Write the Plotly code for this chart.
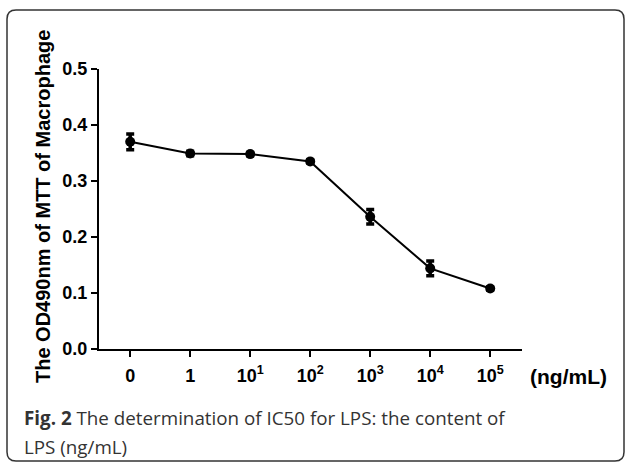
import plotly.graph_objects as go

categories = ["0", "1", "10<sup>1</sup>", "10<sup>2</sup>", "10<sup>3</sup>", "10<sup>4</sup>", "10<sup>5</sup>"]
od_values = [0.370, 0.349, 0.348, 0.335, 0.236, 0.144, 0.108]
od_errors = [0.014, 0.004, 0.003, 0.003, 0.013, 0.013, 0.003]
y_ticks = [0.0, 0.1, 0.2, 0.3, 0.4, 0.5]
y_ticklabels = ["0.0", "0.1", "0.2", "0.3", "0.4", "0.5"]

W, H = 626, 463
L, R, T, B = 99, 522, 69, 349


def px(x):
    return (x - L) / (R - L)


def py(y):
    return (B - y) / (B - T)


x_idx = list(range(len(categories)))

fig = go.Figure()
fig.add_trace(go.Scatter(
    x=x_idx, y=od_values,
    mode="lines+markers",
    line=dict(color="black", width=2),
    marker=dict(color="black", size=10, symbol="circle"),
    error_y=dict(type="data", array=od_errors, visible=True,
                 color="black", thickness=3.5, width=4),
    showlegend=False,
))

bold = "Liberation Sans, Arial, sans-serif"
fig.update_xaxes(
    range=[-0.52, 6.53],
    tickmode="array", tickvals=x_idx, ticktext=categories,
    showline=True, linecolor="black", linewidth=2,
    ticks="outside", ticklen=6, tickwidth=2, tickcolor="black",
    showgrid=False, zeroline=False,
    tickfont=dict(family=bold, size=18, color="black", weight="bold"),
    ticklabelstandoff=3,
)
fig.update_yaxes(
    range=[0, 0.5],
    tickmode="array", tickvals=y_ticks, ticktext=y_ticklabels,
    showline=True, linecolor="black", linewidth=2,
    ticks="outside", ticklen=6, tickwidth=2, tickcolor="black",
    showgrid=False, zeroline=False,
    tickfont=dict(family=bold, size=18, color="black", weight="bold"),
)

# rounded frame
x0, y0, x1, y1, r = 7, 10, 624, 461, 9
rx = r / (R - L)
ry = r / (B - T)
X0, X1 = px(x0), px(x1)
Y0, Y1 = py(y0), py(y1)  # Y0 top (larger), Y1 bottom
path = (f"M {X0+rx},{Y0} L {X1-rx},{Y0} Q {X1},{Y0} {X1},{Y0-ry} "
        f"L {X1},{Y1+ry} Q {X1},{Y1} {X1-rx},{Y1} "
        f"L {X0+rx},{Y1} Q {X0},{Y1} {X0},{Y1+ry} "
        f"L {X0},{Y0-ry} Q {X0},{Y0} {X0+rx},{Y0} Z")
fig.add_shape(type="path", xref="paper", yref="paper", path=path,
              line=dict(color="#333333", width=1.5), layer="above")

fig.add_annotation(
    text="The OD490nm of MTT of Macrophage", textangle=-90,
    xref="paper", yref="paper", x=px(43), y=py(207),
    xanchor="center", yanchor="middle", showarrow=False,
    font=dict(family=bold, size=20, color="black", weight="bold"),
)
fig.add_annotation(
    text="(ng/mL)", xref="paper", yref="paper", x=px(528), y=py(376),
    xanchor="left", yanchor="middle", showarrow=False,
    font=dict(family=bold, size=21, color="black", weight="bold"),
)
cap_font = dict(family="Open Sans, sans-serif", size=18.8, color="#333333")
fig.add_annotation(
    text="<b>Fig. 2</b> The determination of IC50 for LPS: the content of",
    xref="paper", yref="paper", x=px(22), y=py(418),
    xanchor="left", yanchor="middle", showarrow=False, font=cap_font,
)
fig.add_annotation(
    text="LPS (ng/mL)",
    xref="paper", yref="paper", x=px(22), y=py(447),
    xanchor="left", yanchor="middle", showarrow=False, font=cap_font,
)

fig.update_layout(
    width=W, height=H,
    margin=dict(l=L, r=W - R, t=T, b=H - B),
    plot_bgcolor="white", paper_bgcolor="white",
)

fig.write_html("out.html", config={"displayModeBar": False},
               post_script="document.body.style.margin='0px';")
